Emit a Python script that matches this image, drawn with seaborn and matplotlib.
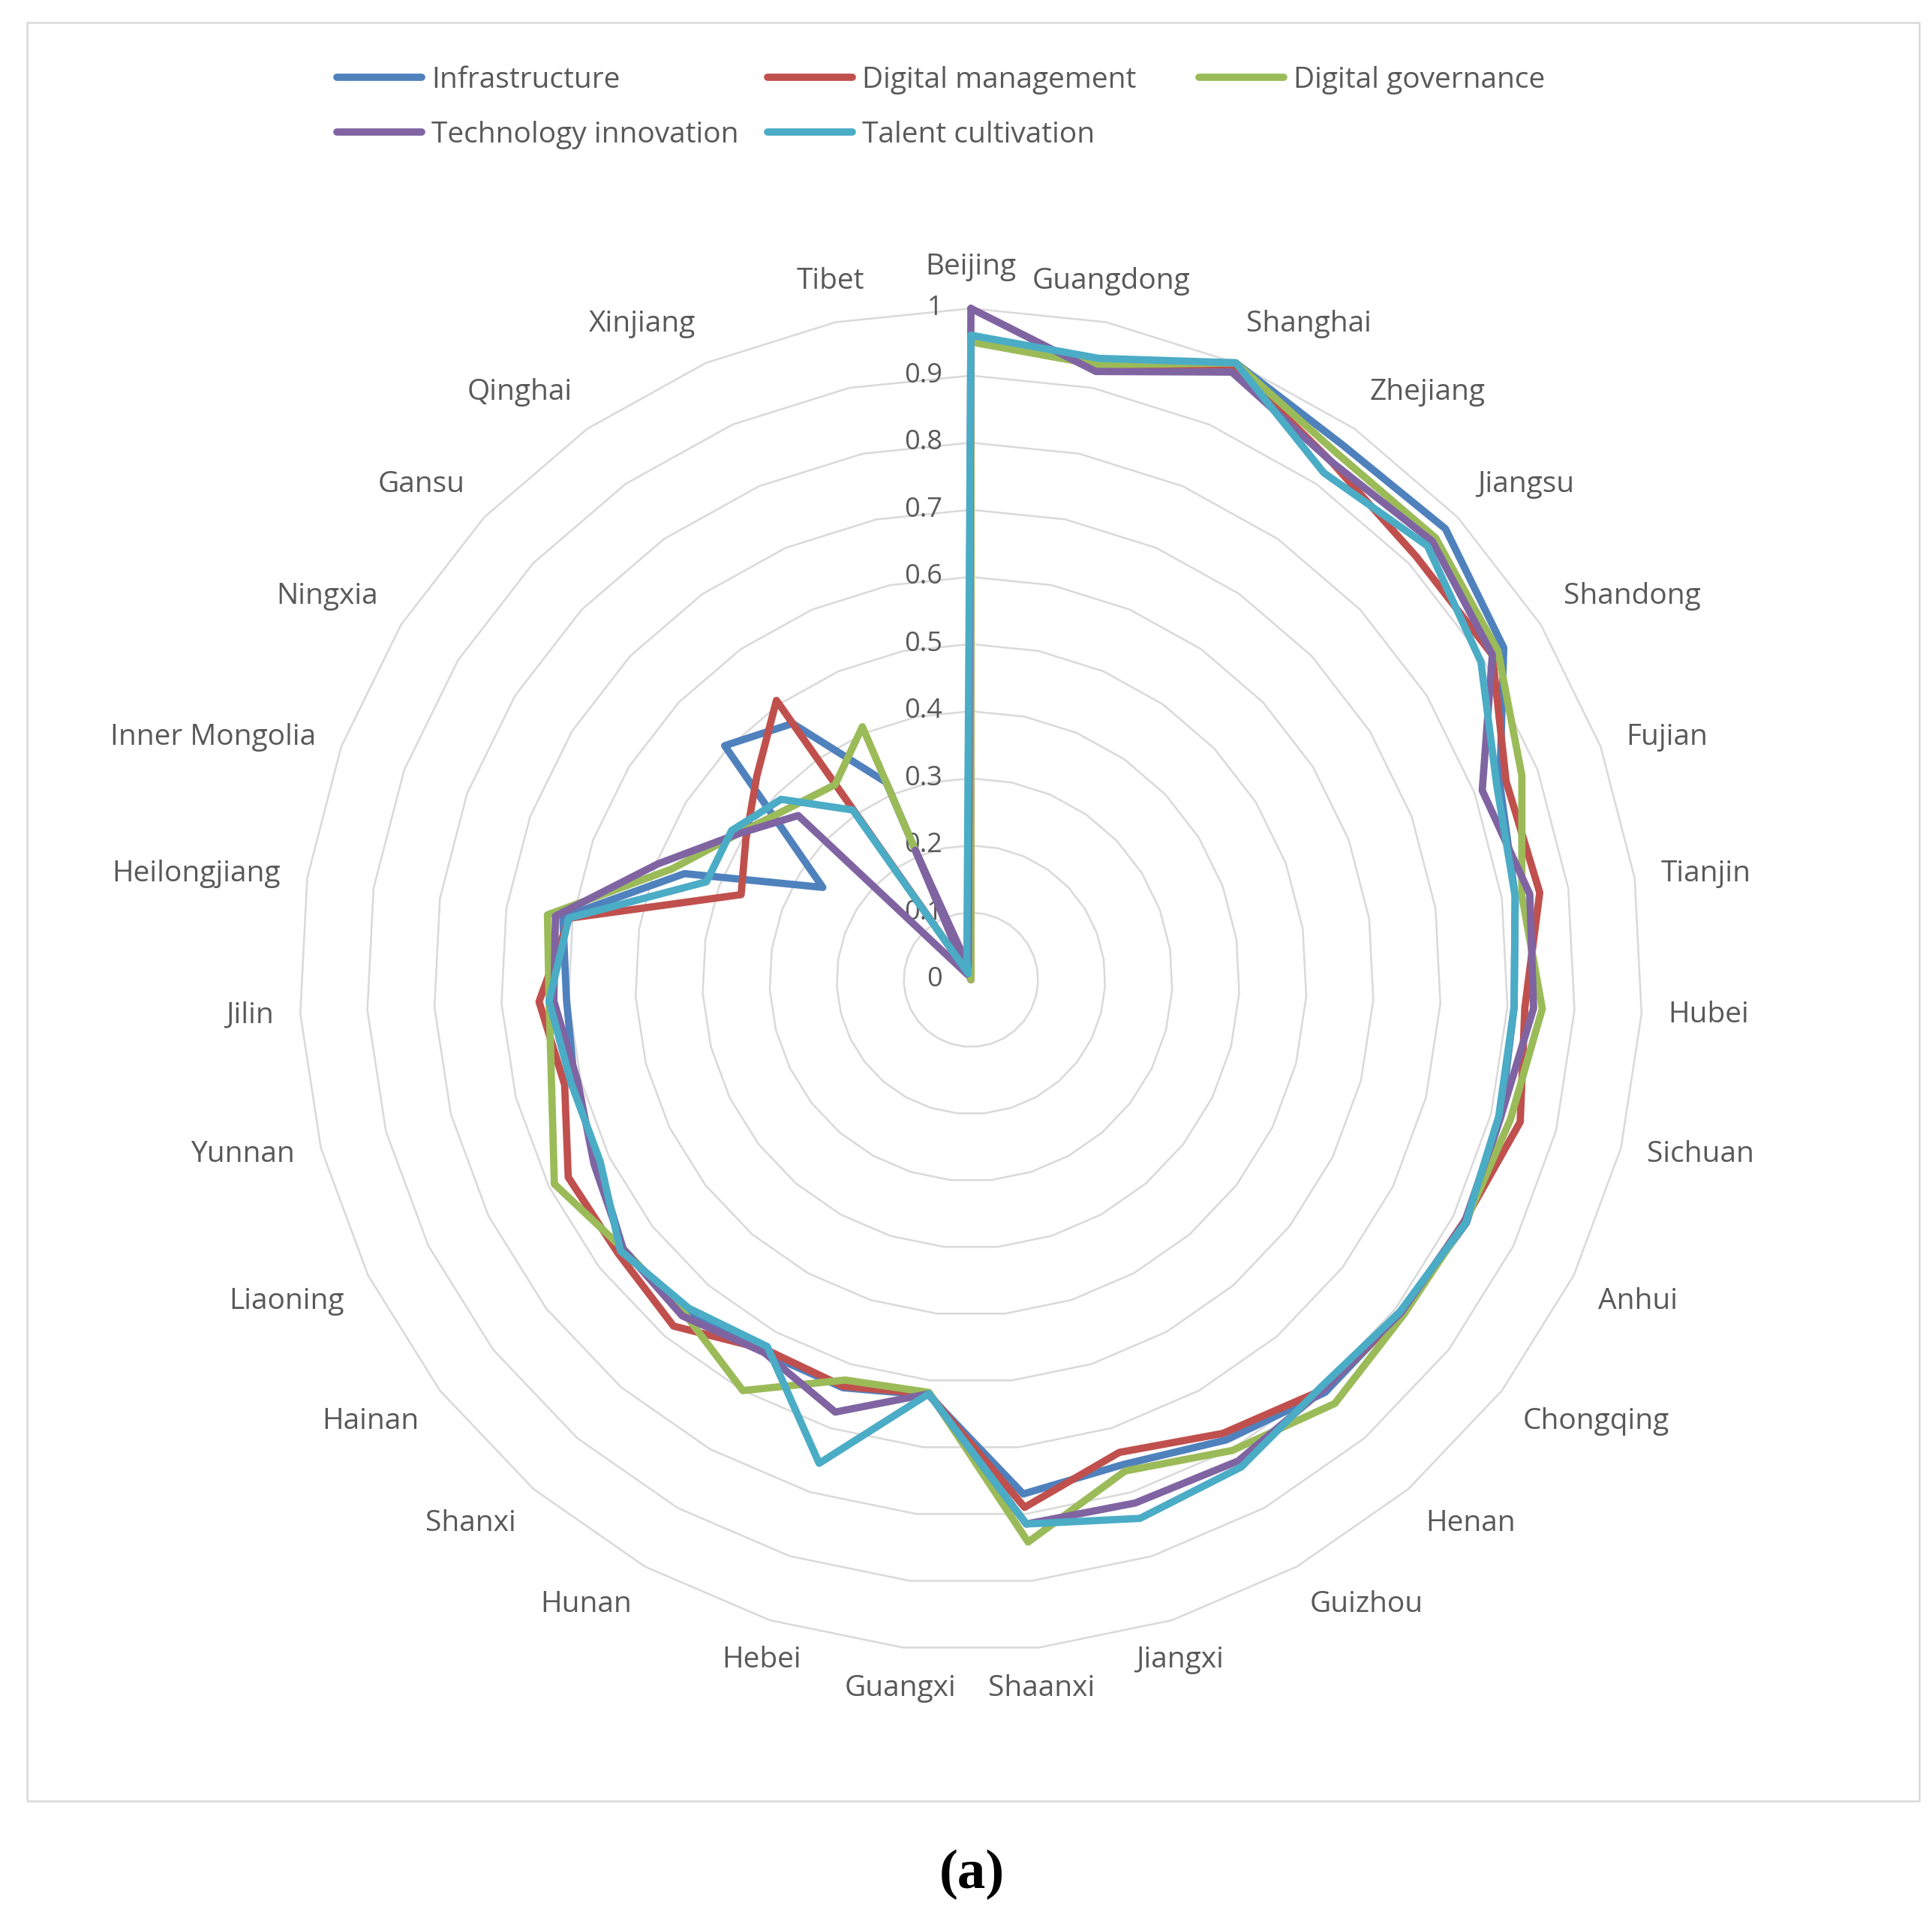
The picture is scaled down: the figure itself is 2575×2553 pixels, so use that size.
import numpy as np
import pandas as pd
import seaborn as sns
import matplotlib.pyplot as plt
from matplotlib.lines import Line2D
from matplotlib.patches import Rectangle
from matplotlib.transforms import ScaledTranslation

provinces = ["Beijing", "Guangdong", "Shanghai", "Zhejiang", "Jiangsu", "Shandong",
             "Fujian", "Tianjin", "Hubei", "Sichuan", "Anhui", "Chongqing", "Henan",
             "Guizhou", "Jiangxi", "Shaanxi", "Guangxi", "Hebei", "Hunan", "Shanxi",
             "Hainan", "Liaoning", "Yunnan", "Jilin", "Heilongjiang", "Inner Mongolia",
             "Ningxia", "Gansu", "Qinghai", "Xinjiang", "Tibet"]

infrastructure = [0.96, 0.94, 1.00, 0.97, 0.975, 0.935, 0.84, 0.82, 0.81, 0.815,
                  0.822, 0.81, 0.81, 0.784, 0.757, 0.77, 0.622, 0.637, 0.635, 0.655,
                  0.655, 0.62, 0.61, 0.603, 0.615, 0.455, 0.26, 0.506, 0.465, 0.32, 0.0]
digital_management = [0.955, 0.935, 0.995, 0.94, 0.915, 0.915, 0.85, 0.857, 0.826, 0.845,
                      0.818, 0.812, 0.805, 0.773, 0.738, 0.79, 0.62, 0.635, 0.63, 0.68,
                      0.665, 0.668, 0.625, 0.644, 0.605, 0.365, 0.395, 0.44, 0.507, 0.01, 0.0]
digital_governance = [0.95, 0.935, 1.00, 0.955, 0.955, 0.925, 0.875, 0.83, 0.852, 0.83,
                      0.82, 0.815, 0.832, 0.802, 0.767, 0.842, 0.618, 0.625, 0.70, 0.655,
                      0.655, 0.691, 0.645, 0.629, 0.638, 0.475, 0.41, 0.372, 0.354, 0.41, 0.0]
technology_innovation = [1.00, 0.925, 0.985, 0.94, 0.948, 0.915, 0.812, 0.842, 0.839, 0.815,
                         0.819, 0.81, 0.805, 0.82, 0.817, 0.815, 0.62, 0.675, 0.635, 0.66,
                         0.655, 0.625, 0.605, 0.622, 0.626, 0.497, 0.41, 0.355, 0.01, 0.21, 0.02]
talent_cultivation = [0.96, 0.945, 1.00, 0.92, 0.938, 0.895, 0.835, 0.82, 0.81, 0.812,
                      0.821, 0.808, 0.80, 0.83, 0.841, 0.815, 0.62, 0.755, 0.625, 0.645,
                      0.66, 0.615, 0.615, 0.629, 0.606, 0.42, 0.42, 0.39, 0.308, 0.01, 0.03]

series_names = ["Infrastructure", "Digital management", "Digital governance",
                "Technology innovation", "Talent cultivation"]
series_values = [infrastructure, digital_management, digital_governance,
                 technology_innovation, talent_cultivation]
colors = ["#4F81BD", "#C0504D", "#9BBB59", "#8064A2", "#4BACC6"]

tick_values = [0, 0.1, 0.2, 0.3, 0.4, 0.5, 0.6, 0.7, 0.8, 0.9, 1.0]
tick_labels = ["0", "0.1", "0.2", "0.3", "0.4", "0.5", "0.6", "0.7", "0.8", "0.9", "1"]

sns.set_theme(style="white")
plt.rcParams["font.family"] = ["Open Sans", "DejaVu Sans"]

text_color = "#595959"
grid_color = "#d9d9d9"

n = len(provinces)
theta = np.linspace(0, 2 * np.pi, n, endpoint=False)
theta_closed = np.append(theta, 2 * np.pi)

rows = []
for name, vals in zip(series_names, series_values):
    closed = list(vals) + [vals[0]]
    for t, v in zip(theta_closed, closed):
        rows.append({"series": name, "theta": t, "value": v})
df = pd.DataFrame(rows)

fig = plt.figure(figsize=(25.75, 25.53), dpi=100)
ax = fig.add_axes([0.1202, 0.1028, 0.7647, 0.7712], projection="polar")
ax.set_theta_zero_location("N")
ax.set_theta_direction(-1)
ax.set_ylim(0, 1.1)
ax.grid(False)
ax.set_xticks([])
ax.set_yticks([])
ax.spines["polar"].set_visible(False)
ax.patch.set_alpha(0)

# polygon grid rings
for v in tick_values[1:]:
    ax.plot(theta_closed, [v] * len(theta_closed), color=grid_color, lw=1.8, zorder=1)

sns.lineplot(
    data=df, x="theta", y="value", hue="series",
    hue_order=series_names, palette=dict(zip(series_names, colors)),
    sort=False, estimator=None, linewidth=7, legend=False, ax=ax,
    solid_joinstyle="round", solid_capstyle="round", zorder=3,
)
ax.set_xlabel("")
ax.set_ylabel("")

# category labels
for t, name in zip(theta, provinces):
    s, c = np.sin(t), np.cos(t)
    ha = "center" if abs(s) < 0.32 else ("left" if s > 0 else "right")
    va = "center" if abs(c) < 0.4 else ("bottom" if c > 0 else "top")
    ax.text(t, 1.04, name, ha=ha, va=va, fontsize=28, color=text_color)

# radial tick labels along the first axis
offset = ax.transData + ScaledTranslation(-0.38, 0, fig.dpi_scale_trans)
for v, lab in zip(tick_values, tick_labels):
    ax.text(0, v, lab, transform=offset, ha="right", va="center",
            fontsize=26, color=text_color, zorder=2)

# legend entries laid out like the original
legend_pos = [(449, 107), (1023, 107), (1598, 107), (449, 180), (1023, 180)]
for name, col, (px, py) in zip(series_names, colors, legend_pos):
    h = Line2D([], [], color=col, lw=7)
    fig.legend(handles=[h], labels=[name], loc="center left",
               bbox_to_anchor=(px / 2575, 1 - py / 2553), frameon=False,
               borderpad=0, borderaxespad=0, handlelength=2.9,
               handletextpad=0.35, fontsize=28, labelcolor=text_color)

fig.add_artist(Rectangle((0.014, 0.0595), 0.9794, 0.9287, transform=fig.transFigure,
                         fill=False, edgecolor=grid_color, lw=1.8))

fig.text(0.503, 0.021, "(a)", ha="center", va="center", fontsize=54,
         fontweight="bold", family="Liberation Serif", color="black")

fig.savefig("out.png", dpi=100, facecolor="white")
